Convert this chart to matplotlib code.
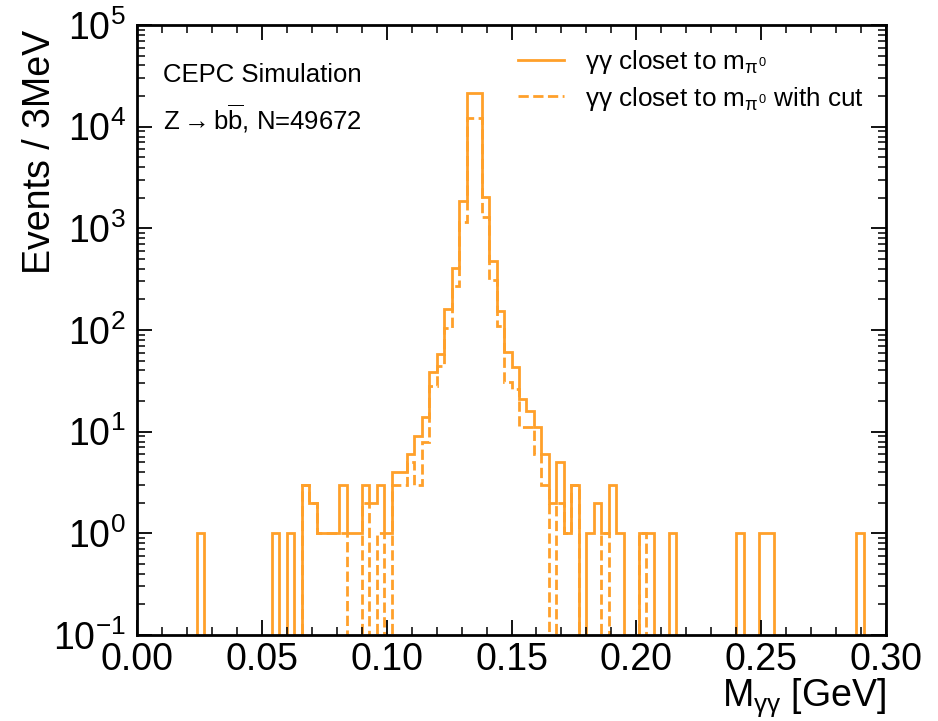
import numpy as np
import matplotlib
matplotlib.use("Agg")
import matplotlib.pyplot as plt
from matplotlib.ticker import MultipleLocator, FormatStrFormatter, LogLocator

plt.rcParams['font.family'] = ['Liberation Sans', 'DejaVu Sans']
plt.rcParams['mathtext.fontset'] = 'custom'
plt.rcParams['mathtext.rm'] = 'Liberation Sans'
plt.rcParams['mathtext.it'] = 'Liberation Sans'
plt.rcParams['mathtext.bf'] = 'Liberation Sans:bold'
plt.rcParams['mathtext.sf'] = 'Liberation Sans'

# ---- data: 3 MeV bins from 0 to 0.3 GeV ----
bin_edges = np.linspace(0.0, 0.3, 101)

counts_all = [
    0, 0, 0, 0, 0, 0, 0, 0, 1, 0,          # 0.000-0.030
    0, 0, 0, 0, 0, 0, 0, 0, 1, 0,          # 0.030-0.060
    1, 0, 3, 2, 1, 1, 1, 3, 1, 1,          # 0.060-0.090
    3, 2, 3, 1, 4, 4, 6, 9, 14, 39,        # 0.090-0.120
    58, 160, 410, 1870, 21300, 21300, 2045, 477, 155, 61,  # 0.120-0.150
    43, 21, 16, 11, 6, 2, 5, 1, 3, 0,      # 0.150-0.180
    1, 2, 1, 3, 1, 0, 0, 1, 1, 0,          # 0.180-0.210
    0, 1, 0, 0, 0, 0, 0, 0, 0, 0,          # 0.210-0.240
    1, 0, 0, 1, 1, 0, 0, 0, 0, 0,          # 0.240-0.270
    0, 0, 0, 0, 0, 0, 1, 0, 0, 0,          # 0.270-0.300
]

counts_cut = [
    0, 0, 0, 0, 0, 0, 0, 0, 0, 0,
    0, 0, 0, 0, 0, 0, 0, 0, 0, 0,
    0, 0, 3, 2, 1, 1, 1, 1, 0, 0,
    2, 0, 1, 0, 3, 3, 5, 3, 8, 28,
    44, 104, 270, 1160, 12300, 12200, 1300, 310, 110, 31,
    26, 11, 11, 6, 3, 0, 2, 1, 3, 0,
    0, 0, 1, 0, 0, 0, 0, 1, 0, 0,
    0, 0, 0, 0, 0, 0, 0, 0, 0, 0,
    0, 0, 0, 0, 0, 0, 0, 0, 0, 0,
    0, 0, 0, 0, 0, 0, 0, 0, 0, 0,
]

label_all = r"$\gamma\gamma$ closet to $m_{\pi^0}$"
label_cut = r"$\gamma\gamma$ closet to $m_{\pi^0}$ with cut"
color = "#ffa02a"

fig = plt.figure(figsize=(9.38, 7.21), dpi=100)
ax = fig.add_axes([137/938, 86/721, 749/938, 610/721])
ax.set_yscale('log')

ax.stairs(counts_all, bin_edges, color=color, lw=2.0, label=label_all)
ax.stairs(counts_cut, bin_edges, color=color, lw=2.0, ls='--', label=label_cut)

ax.set_xlim(0, 0.3)
ax.set_ylim(0.1, 1e5)

ax.xaxis.set_major_locator(MultipleLocator(0.05))
ax.xaxis.set_minor_locator(MultipleLocator(0.01))
ax.xaxis.set_major_formatter(FormatStrFormatter('%.2f'))
ax.yaxis.set_major_locator(LogLocator(base=10, numticks=20))
ax.yaxis.set_minor_locator(LogLocator(base=10, subs=np.arange(2, 10), numticks=20))

ax.tick_params(which='both', direction='in', top=True, right=True, labelsize=27)
ax.tick_params(axis='x', which='major', length=11, width=1.3, pad=5)
ax.tick_params(axis='y', which='major', length=11, width=1.3, pad=8)
ax.tick_params(which='minor', length=5.5, width=1.1)
for s in ax.spines.values():
    s.set_linewidth(2.0)

ax.set_xlabel(r"$M_{\gamma\gamma}$ [GeV]", fontsize=27, loc='right')
ax.xaxis.set_label_coords(1.0, -0.067)
ax.set_ylabel("Events / 3MeV", fontsize=27, loc='top')
ax.yaxis.set_label_coords(-0.105, 0.992)

ax.text(0.035, 0.906, "CEPC Simulation", transform=ax.transAxes, fontsize=18.5, va='baseline')
ax.text(0.035, 0.828, r"$Z \rightarrow b\overline{b}$, N=49672", transform=ax.transAxes,
        fontsize=18.5, va='baseline')

ax.legend(loc='upper left', bbox_to_anchor=(0.509, 0.962), frameon=False, fontsize=18.8,
          handlelength=1.75, handletextpad=0.8, borderaxespad=0, borderpad=0, labelspacing=0.32)

fig.savefig("out.png", dpi=100)
